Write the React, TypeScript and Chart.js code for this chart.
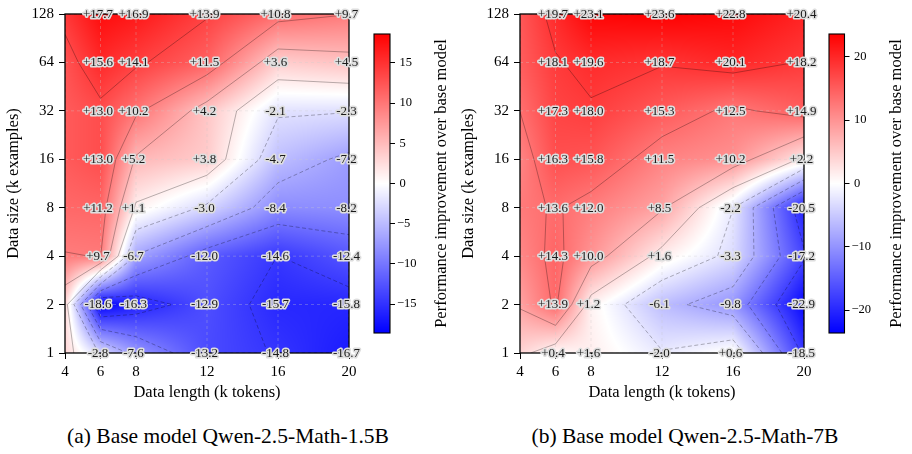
import React, { useEffect, useRef } from 'react';
import { Chart, registerables } from 'chart.js';

Chart.register(...registerables);

const SERIF = '"Liberation Serif", "Times New Roman", serif';

// ---- data ----
const X_LENGTHS = [4, 6, 8, 12, 16, 20];          // k tokens (grid columns)
const Y_SIZES = [128, 64, 32, 16, 8, 4, 2, 1];     // k examples (grid rows, top to bottom)
const X_TICKS = [4, 6, 8, 12, 16, 20];
const Y_TICKS = [1, 2, 4, 8, 16, 32, 64, 128];
const ANNOTATED_X = [6, 8, 12, 16, 20];

// Qwen-2.5-Math-1.5B: rows = Y_SIZES, cols = X_LENGTHS (x=4 column estimated from colour)
const GAIN_15B = [
  [14.5, 17.7, 16.9, 13.9, 10.8, 9.7],
  [12.5, 15.6, 14.1, 11.5, 3.6, 4.5],
  [12.0, 13.0, 10.2, 4.2, -2.1, -2.3],
  [12.0, 13.0, 5.2, 3.8, -4.7, -7.2],
  [11.0, 11.2, 1.1, -3.0, -8.4, -8.2],
  [9.5, 9.7, -6.7, -12.0, -14.6, -12.4],
  [3.0, -18.6, -16.3, -12.9, -15.7, -15.8],
  [3.0, -2.8, -7.6, -13.2, -14.8, -16.7],
];

// Qwen-2.5-Math-7B
const GAIN_7B = [
  [15.5, 19.7, 23.1, 23.6, 22.8, 20.4],
  [15.0, 18.1, 19.6, 18.7, 20.1, 18.2],
  [13.3, 17.3, 18.0, 15.3, 12.5, 14.9],
  [11.3, 16.3, 15.8, 11.5, 10.2, 2.2],
  [12.3, 13.6, 12.0, 8.5, -2.2, -20.5],
  [11.0, 14.3, 10.0, 1.6, -3.3, -17.2],
  [8.5, 13.9, 1.2, -6.1, -9.8, -22.9],
  [4.0, 0.4, 1.6, -2.0, 0.6, -18.5],
];

const CBAR_TICKS_15B = [-15, -10, -5, 0, 5, 10, 15];
const CBAR_TICKS_7B = [-20, -10, 0, 10, 20];
const VMAX_15B = 18.6;
const VMAX_7B = 23.6;
const N_LEVELS = 10;

const CBAR_LABEL = 'Performance improvement over base model';
const X_TITLE = 'Data length (k tokens)';
const Y_TITLE = 'Data size (k examples)';
const CAPTION_A = '(a) Base model Qwen-2.5-Math-1.5B';
const CAPTION_B = '(b) Base model Qwen-2.5-Math-7B';

// ---- helpers ----
function bwr(v: number, vmax: number): [number, number, number] {
  let t = (v + vmax) / (2 * vmax);
  t = Math.max(0, Math.min(1, t));
  if (t < 0.5) {
    const k = 2 * t;
    return [255 * k, 255 * k, 255];
  }
  const k = 2 * (1 - t);
  return [255, 255 * k, 255 * k];
}

type Pt = { x: number; y: number; v: number };

function buildGrid(pts: Pt[]) {
  const xs = Array.from(new Set(pts.map((p) => p.x))).sort((a, b) => a - b);
  const ys = Array.from(new Set(pts.map((p) => p.y))).sort((a, b) => a - b);
  const ly = ys.map((y) => Math.log2(y));
  const Z: number[][] = ys.map(() => xs.map(() => 0));
  pts.forEach((p) => {
    Z[ys.indexOf(p.y)][xs.indexOf(p.x)] = p.v;
  });
  return { xs, ly, Z };
}

function interp(g: { xs: number[]; ly: number[]; Z: number[][] }, x: number, l: number) {
  const { xs, ly, Z } = g;
  let i = 0;
  while (i < xs.length - 2 && x > xs[i + 1]) i++;
  let j = 0;
  while (j < ly.length - 2 && l > ly[j + 1]) j++;
  const tx = Math.max(0, Math.min(1, (x - xs[i]) / (xs[i + 1] - xs[i])));
  const ty = Math.max(0, Math.min(1, (l - ly[j]) / (ly[j + 1] - ly[j])));
  const z00 = Z[j][i], z10 = Z[j][i + 1], z01 = Z[j + 1][i], z11 = Z[j + 1][i + 1];
  return (1 - ty) * ((1 - tx) * z00 + tx * z10) + ty * ((1 - tx) * z01 + tx * z11);
}

function contourSegments(g: { xs: number[]; ly: number[]; Z: number[][] }, level: number) {
  const { xs, ly, Z } = g;
  const segs: number[][][] = [];
  for (let j = 0; j < ly.length - 1; j++) {
    for (let i = 0; i < xs.length - 1; i++) {
      const a = Z[j][i], b = Z[j][i + 1], c = Z[j + 1][i + 1], d = Z[j + 1][i];
      const x0 = xs[i], x1 = xs[i + 1], y0 = ly[j], y1 = ly[j + 1];
      const ia = a > level ? 1 : 0, ib = b > level ? 1 : 0, ic = c > level ? 1 : 0, id = d > level ? 1 : 0;
      const code = ia | (ib << 1) | (ic << 2) | (id << 3);
      if (code === 0 || code === 15) continue;
      const f = (v1: number, v2: number) => (level - v1) / (v2 - v1);
      const B = () => [x0 + f(a, b) * (x1 - x0), y0];
      const R = () => [x1, y0 + f(b, c) * (y1 - y0)];
      const T = () => [x0 + f(d, c) * (x1 - x0), y1];
      const L = () => [x0, y0 + f(a, d) * (y1 - y0)];
      if (code === 5 || code === 10) {
        const center = (a + b + c + d) / 4 > level ? 1 : 0;
        if (center === ia) {
          segs.push([B(), R()]);
          segs.push([T(), L()]);
        } else {
          segs.push([L(), B()]);
          segs.push([R(), T()]);
        }
      } else {
        const p: number[][] = [];
        if (ia !== ib) p.push(B());
        if (ib !== ic) p.push(R());
        if (id !== ic) p.push(T());
        if (ia !== id) p.push(L());
        if (p.length === 2) segs.push([p[0], p[1]]);
      }
    }
  }
  return chain(segs);
}

function chain(segs: number[][][]) {
  const key = (p: number[]) => p[0].toFixed(6) + ',' + p[1].toFixed(6);
  const used = segs.map(() => false);
  const map = new Map<string, number[]>();
  segs.forEach((s, k) => {
    s.forEach((p) => {
      const kk = key(p);
      if (!map.has(kk)) map.set(kk, []);
      map.get(kk)!.push(k);
    });
  });
  const lines: number[][][] = [];
  for (let k = 0; k < segs.length; k++) {
    if (used[k]) continue;
    used[k] = true;
    const line = [segs[k][0], segs[k][1]];
    for (const fwd of [true, false]) {
      for (;;) {
        const end = fwd ? line[line.length - 1] : line[0];
        const ek = key(end);
        const cand = (map.get(ek) || []).find((n) => !used[n]);
        if (cand === undefined) break;
        used[cand] = true;
        const s = segs[cand];
        const other = key(s[0]) === ek ? s[1] : s[0];
        if (fwd) line.push(other);
        else line.unshift(other);
      }
    }
    lines.push(line);
  }
  return lines;
}

// ---- plugins ----
const heatPlugin = {
  id: 'heat',
  beforeDraw(chart: any, _args: any, opts: any) {
    const { left, right, top, bottom } = chart.chartArea;
    const xs = chart.scales.x, ys = chart.scales.y;
    const g = buildGrid(chart.data.datasets[0].data as Pt[]);
    const w = Math.ceil(right - left), h = Math.ceil(bottom - top);
    const off = document.createElement('canvas');
    off.width = w;
    off.height = h;
    const octx = off.getContext('2d')!;
    const img = octx.createImageData(w, h);
    const colX: number[] = [];
    for (let px = 0; px < w; px++) colX.push(xs.getValueForPixel(left + (px + 0.5) * (right - left) / w));
    for (let py = 0; py < h; py++) {
      const l = Math.log2(ys.getValueForPixel(top + (py + 0.5) * (bottom - top) / h));
      for (let px = 0; px < w; px++) {
        const v = interp(g, colX[px], l);
        const [r, gg, b] = bwr(v, opts.vmax);
        const k = (py * w + px) * 4;
        img.data[k] = r;
        img.data[k + 1] = gg;
        img.data[k + 2] = b;
        img.data[k + 3] = 255;
      }
    }
    octx.putImageData(img, 0, 0);
    chart.ctx.drawImage(off, left, top, right - left, bottom - top);
  },
  afterDatasetsDraw(chart: any) {
    const ctx = chart.ctx;
    const { left, right, top, bottom } = chart.chartArea;
    const xs = chart.scales.x, ys = chart.scales.y;
    const pts = chart.data.datasets[0].data as Pt[];
    const g = buildGrid(pts);
    ctx.save();
    ctx.beginPath();
    ctx.rect(left, top, right - left, bottom - top);
    ctx.clip();
    // dashed grid
    ctx.strokeStyle = 'rgba(205,205,205,0.4)';
    ctx.lineWidth = 0.8;
    ctx.setLineDash([3, 3]);
    X_TICKS.forEach((t) => {
      const px = xs.getPixelForValue(t);
      ctx.beginPath();
      ctx.moveTo(px, top);
      ctx.lineTo(px, bottom);
      ctx.stroke();
    });
    Y_TICKS.forEach((t) => {
      const py = ys.getPixelForValue(t);
      ctx.beginPath();
      ctx.moveTo(left, py);
      ctx.lineTo(right, py);
      ctx.stroke();
    });
    // contours
    const vals = pts.map((p) => p.v);
    const mn = Math.min(...vals), mx = Math.max(...vals);
    ctx.strokeStyle = 'rgba(0,0,0,0.38)';
    ctx.lineWidth = 0.75;
    for (let k = 1; k < N_LEVELS - 1; k++) {
      const level = mn + (k * (mx - mn)) / (N_LEVELS - 1);
      ctx.setLineDash(level < 0 ? [4, 2.5] : []);
      const lines = contourSegments(g, level);
      lines.forEach((line) => {
        ctx.beginPath();
        line.forEach((p, idx) => {
          const X = xs.getPixelForValue(p[0]);
          const Y = ys.getPixelForValue(Math.pow(2, p[1]));
          if (idx === 0) ctx.moveTo(X, Y);
          else ctx.lineTo(X, Y);
        });
        ctx.stroke();
      });
    }
    ctx.restore();
  },
  afterDraw(chart: any) {
    const ctx = chart.ctx;
    const { left, right, top, bottom } = chart.chartArea;
    const xs = chart.scales.x, ys = chart.scales.y;
    ctx.save();
    ctx.strokeStyle = '#000';
    ctx.lineWidth = 1.3;
    ctx.setLineDash([]);
    ctx.strokeRect(left, top, right - left, bottom - top);
    ctx.font = `13px ${SERIF}`;
    ctx.textAlign = 'center';
    ctx.textBaseline = 'middle';
    ctx.lineJoin = 'round';
    (chart.data.datasets[0].data as Pt[]).forEach((p) => {
      if (!ANNOTATED_X.includes(p.x)) return;
      const txt = p.v > 0 ? '+' + p.v.toFixed(1) : p.v.toFixed(1);
      const X = xs.getPixelForValue(p.x) - 2.5;
      const Y = ys.getPixelForValue(p.y) + 0.5;
      ctx.strokeStyle = 'rgba(222,222,222,1)';
      ctx.lineWidth = 3.2;
      ctx.strokeText(txt, X, Y);
      ctx.fillStyle = '#1a1a1a';
      ctx.fillText(txt, X, Y);
    });
    ctx.restore();
  },
};

const cbarPlugin = {
  id: 'cbar',
  beforeDraw(chart: any, _args: any, opts: any) {
    const ctx = chart.ctx;
    const { left, right, top, bottom } = chart.chartArea;
    const ys = chart.scales.y;
    for (let py = Math.floor(top); py < Math.ceil(bottom); py++) {
      const v = ys.getValueForPixel(py + 0.5);
      const [r, g, b] = bwr(v, opts.vmax);
      ctx.fillStyle = `rgb(${r},${g},${b})`;
      ctx.fillRect(left, py, right - left, 1);
    }
  },
  afterDraw(chart: any, _args: any, opts: any) {
    const ctx = chart.ctx;
    const { left, right, top, bottom } = chart.chartArea;
    ctx.save();
    ctx.strokeStyle = '#000';
    ctx.lineWidth = 1.1;
    ctx.strokeRect(left, top, right - left, bottom - top);
    ctx.translate(right + opts.labelOffset, (top + bottom) / 2);
    ctx.rotate(-Math.PI / 2);
    ctx.font = `16.5px ${SERIF}`;
    ctx.fillStyle = '#000';
    ctx.textAlign = 'center';
    ctx.textBaseline = 'middle';
    ctx.fillText(CBAR_LABEL, 0, 0);
    ctx.restore();
  },
};

function makeMain(canvas: HTMLCanvasElement, table: number[][], vmax: number) {
  const pts: Pt[] = [];
  Y_SIZES.forEach((y, r) => X_LENGTHS.forEach((x, c) => pts.push({ x, y, v: table[r][c] })));
  return new Chart(canvas, {
    type: 'scatter',
    data: { datasets: [{ data: pts as any, pointRadius: 0, pointHoverRadius: 0 }] },
    options: {
      animation: false,
      responsive: false,
      devicePixelRatio: 1,
      events: [],
      layout: { padding: { left: 0, right: 21, top: 13.5, bottom: 0 } },
      plugins: {
        legend: { display: false },
        tooltip: { enabled: false },
        heat: { vmax },
      } as any,
      scales: {
        x: {
          type: 'linear',
          min: 4,
          max: 20,
          afterBuildTicks: (s: any) => {
            s.ticks = X_TICKS.map((v) => ({ value: v }));
          },
          afterFit: (s: any) => {
            s.height = 50;
          },
          ticks: {
            font: { family: SERIF, size: 15 },
            color: '#000',
            padding: 4,
            maxRotation: 0,
            autoSkip: false,
            callback: (v: any) => String(v),
          },
          grid: { drawOnChartArea: false, drawTicks: true, tickLength: 6, tickColor: '#000', tickWidth: 1 },
          border: { display: false },
          title: { display: true, text: X_TITLE, font: { family: SERIF, size: 16.5 }, color: '#000', padding: { top: 0, bottom: 0 } },
        },
        y: {
          type: 'logarithmic',
          min: 1,
          max: 128,
          afterBuildTicks: (s: any) => {
            s.ticks = Y_TICKS.map((v) => ({ value: v }));
          },
          afterFit: (s: any) => {
            s.width = 65;
          },
          ticks: {
            font: { family: SERIF, size: 15 },
            color: '#000',
            padding: 5,
            autoSkip: false,
            callback: (v: any) => String(v),
          },
          grid: { drawOnChartArea: false, drawTicks: true, tickLength: 6, tickColor: '#000', tickWidth: 1 },
          border: { display: false },
          title: { display: true, text: Y_TITLE, font: { family: SERIF, size: 16.5 }, color: '#000', padding: { top: 3.5, bottom: 0 } },
        },
      },
    } as any,
    plugins: [heatPlugin],
  });
}

function makeCbar(canvas: HTMLCanvasElement, vmax: number, ticks: number[], areaLeft: number, areaRight: number, labelOffset: number) {
  const W = canvas.width;
  return new Chart(canvas, {
    type: 'scatter',
    data: { datasets: [{ data: [] }] },
    options: {
      animation: false,
      responsive: false,
      devicePixelRatio: 1,
      events: [],
      layout: { padding: { left: areaLeft, right: 0, top: 34, bottom: 403 - 333 } },
      plugins: {
        legend: { display: false },
        tooltip: { enabled: false },
        cbar: { vmax, labelOffset },
      } as any,
      scales: {
        x: { display: false, min: 0, max: 1 },
        y: {
          type: 'linear',
          position: 'right',
          min: -vmax,
          max: vmax,
          afterBuildTicks: (s: any) => {
            s.ticks = ticks.map((v) => ({ value: v }));
          },
          afterFit: (s: any) => {
            s.width = W - areaRight;
          },
          ticks: {
            font: { family: SERIF, size: 12.5 },
            color: '#000',
            padding: 2,
            autoSkip: false,
            callback: (v: any) => (v < 0 ? '\u2212' + Math.abs(v) : '\u2009' + String(v)),
          },
          grid: { drawOnChartArea: false, drawTicks: true, tickLength: 5, tickColor: '#000', tickWidth: 1 },
          border: { display: false },
        },
      },
    } as any,
    plugins: [cbarPlugin],
  });
}

export default function App() {
  const a = useRef<HTMLCanvasElement>(null);
  const ac = useRef<HTMLCanvasElement>(null);
  const b = useRef<HTMLCanvasElement>(null);
  const bc = useRef<HTMLCanvasElement>(null);

  useEffect(() => {
    Chart.defaults.font.family = SERIF;
    const charts = [
      makeMain(a.current!, GAIN_15B, VMAX_15B),
      makeCbar(ac.current!, VMAX_15B, CBAR_TICKS_15B, 14, 30, 52),
      makeMain(b.current!, GAIN_7B, VMAX_7B),
      makeCbar(bc.current!, VMAX_7B, CBAR_TICKS_7B, 14, 29.5, 52.5),
    ];
    return () => charts.forEach((c) => c.destroy());
  }, []);

  const cv = (left: number, w: number): React.CSSProperties => ({ position: 'absolute', left, top: 0, width: w, height: 403 });
  const cap = (center: number): React.CSSProperties => ({
    position: 'absolute',
    left: center - 220,
    width: 440,
    top: 424,
    textAlign: 'center',
    fontFamily: SERIF,
    fontSize: '21.5px',
    lineHeight: '24px',
    color: '#000',
    whiteSpace: 'nowrap',
  });

  return (
    <div style={{ position: 'absolute', left: 0, top: 0, width: 912, height: 454, background: '#fff', overflow: 'hidden' }}>
      <canvas ref={a} width={370} height={403} style={cv(0, 370)} />
      <canvas ref={ac} width={95} height={403} style={cv(360, 95)} />
      <canvas ref={b} width={370} height={403} style={cv(455, 370)} />
      <canvas ref={bc} width={97} height={403} style={cv(815, 97)} />
      <div style={cap(228)}>{CAPTION_A}</div>
      <div style={cap(685)}>{CAPTION_B}</div>
    </div>
  );
}
